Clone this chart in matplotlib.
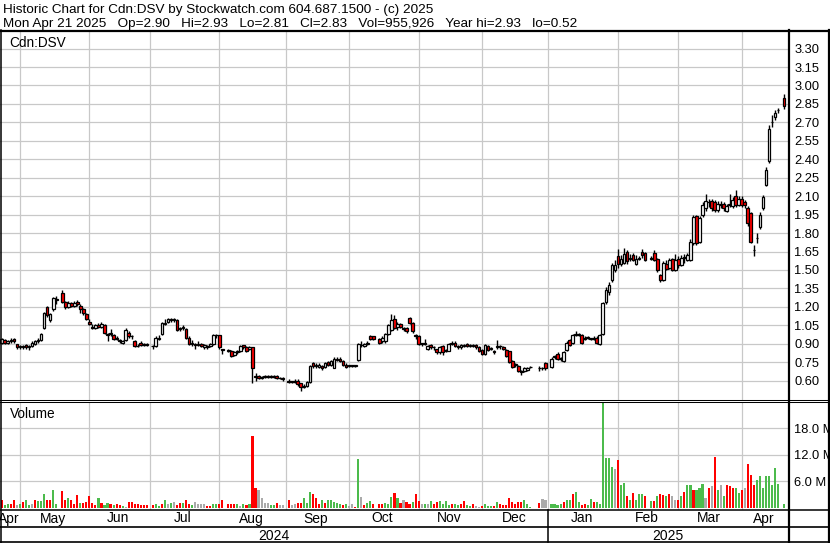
import numpy as np
import pandas as pd
import matplotlib
matplotlib.use("Agg")
import matplotlib.pyplot as plt
from matplotlib.lines import Line2D

plt.rcParams["font.family"] = ["Liberation Sans", "DejaVu Sans"]

W, H = 830, 543

# exchange holidays: the weekday slot stays empty on the chart
holidays = ["2024-05-20", "2024-07-01", "2024-08-05", "2024-09-02", "2024-10-14",
            "2024-12-25", "2024-12-26", "2025-01-01", "2025-02-17", "2025-04-18"]

# daily prices, one line per month (Apr 22 2024 .. Apr 21 2025)
opens = [
    0.92, 0.91, 0.93, 0.91, 0.92, 0.94, 0.90,
    0.87, 0.88, 0.89, 0.87, 0.88, 0.90, 0.92, 0.93, 1.03, 1.20, 1.09, 1.18, 1.26, 1.31, 1.24, 1.20, 1.23, 1.21, 1.24, 1.21, 1.18, 1.14,
    1.08, 1.04, 1.03, 1.05, 1.04, 1.05, 0.98, 0.98, 0.97, 0.94, 0.93, 0.91, 0.93, 0.99, 0.96, 0.92, 0.88, 0.91, 0.89, 0.90,
    0.88, 0.88, 0.94, 0.98, 1.06, 1.08, 1.10, 1.09, 1.09, 1.02, 1.03, 1.02, 0.95, 0.90, 0.90, 0.89, 0.90, 0.87, 0.88, 0.88, 0.90, 0.97,
    0.97, 0.86, 0.85, 0.84, 0.81, 0.83, 0.84, 0.89, 0.87, 0.86, 0.87, 0.64, 0.64, 0.62, 0.63, 0.64, 0.63, 0.64, 0.64, 0.62, 0.62,
    0.60, 0.59, 0.59, 0.60, 0.58, 0.55, 0.56, 0.59, 0.74, 0.72, 0.71, 0.72, 0.71, 0.75, 0.73, 0.70, 0.78, 0.78, 0.76, 0.73,
    0.72, 0.72, 0.72, 0.77, 0.89, 0.88, 0.90, 0.96, 0.96, 0.94, 0.92, 0.92, 0.98, 1.01, 1.10, 1.04, 1.06, 1.03, 1.03, 1.11, 1.07, 0.97,
    0.96, 0.90, 0.90, 0.86, 0.89, 0.87, 0.86, 0.83, 0.88, 0.84, 0.84, 0.90, 0.91, 0.88, 0.87, 0.88, 0.90, 0.88, 0.89, 0.89, 0.87,
    0.85, 0.82, 0.88, 0.86, 0.84, 0.87, 0.88, 0.87, 0.85, 0.84, 0.76, 0.73, 0.72, 0.68, 0.68, 0.69, 0.71, 0.70, 0.70, 0.74,
    0.71, 0.79, 0.82, 0.78, 0.76, 0.85, 0.93, 0.91, 0.97, 0.97, 0.97, 0.94, 0.95, 0.94, 0.94, 0.95, 0.90, 0.98, 1.24, 1.32, 1.42, 1.50,
    1.61, 1.55, 1.56, 1.65, 1.59, 1.62, 1.55, 1.59, 1.65, 1.64, 1.59, 1.64, 1.59, 1.46, 1.42, 1.55, 1.52, 1.59, 1.50,
    1.59, 1.54, 1.60, 1.58, 1.58, 1.72, 1.94, 1.73, 1.95, 2.00, 2.05, 2.06, 2.05, 1.99, 2.03, 2.04, 1.98, 2.03, 2.02, 2.10, 2.03,
    2.08, 2.05, 2.00, 1.96, 1.66, 1.76, 1.85, 2.00, 2.19, 2.39, 2.70, 2.74, 2.80, 2.90,
]
highs = [
    0.94, 0.95, 0.94, 0.93, 0.95, 0.95, 0.90,
    0.89, 0.89, 0.90, 0.89, 0.92, 0.93, 0.95, 0.99, 1.16, 1.21, 1.15, 1.28, 1.29, 1.34, 1.25, 1.25, 1.24, 1.25, 1.26, 1.22, 1.19, 1.15,
    1.10, 1.06, 1.06, 1.07, 1.08, 1.06, 0.99, 1.02, 0.98, 0.96, 0.94, 0.93, 1.03, 1.00, 0.97, 0.93, 0.90, 0.92, 0.91, 0.91,
    0.89, 0.96, 0.97, 1.08, 1.10, 1.11, 1.11, 1.11, 1.10, 1.04, 1.05, 1.03, 0.96, 0.93, 0.91, 0.92, 0.91, 0.90, 0.89, 0.91, 0.98, 0.98,
    0.97, 0.86, 0.86, 0.85, 0.84, 0.85, 0.89, 0.89, 0.88, 0.88, 0.87, 0.66, 0.65, 0.64, 0.65, 0.65, 0.65, 0.65, 0.65, 0.63, 0.63,
    0.61, 0.60, 0.61, 0.61, 0.58, 0.57, 0.60, 0.73, 0.75, 0.74, 0.74, 0.73, 0.75, 0.76, 0.77, 0.79, 0.79, 0.79, 0.77, 0.74,
    0.73, 0.73, 0.73, 0.91, 0.92, 0.91, 0.92, 0.97, 0.96, 0.95, 0.96, 0.99, 1.06, 1.14, 1.13, 1.08, 1.07, 1.04, 1.04, 1.12, 1.08, 0.98,
    0.97, 0.91, 0.94, 0.89, 0.90, 0.88, 0.86, 0.88, 0.89, 0.86, 0.91, 0.92, 0.92, 0.89, 0.90, 0.90, 0.91, 0.90, 0.90, 0.90, 0.88,
    0.86, 0.90, 0.89, 0.87, 0.85, 0.93, 0.89, 0.88, 0.86, 0.84, 0.77, 0.74, 0.73, 0.69, 0.71, 0.71, 0.72, 0.72, 0.71, 0.75,
    0.79, 0.81, 0.83, 0.79, 0.84, 0.92, 0.94, 0.98, 1.00, 0.99, 0.98, 0.96, 0.96, 0.95, 0.96, 0.96, 0.98, 1.24, 1.36, 1.40, 1.56, 1.58,
    1.67, 1.62, 1.68, 1.66, 1.63, 1.64, 1.62, 1.61, 1.67, 1.65, 1.61, 1.66, 1.60, 1.47, 1.57, 1.58, 1.60, 1.60, 1.63,
    1.61, 1.62, 1.63, 1.64, 1.75, 1.95, 1.95, 1.94, 2.05, 2.12, 2.08, 2.08, 2.07, 2.06, 2.06, 2.05, 2.04, 2.12, 2.09, 2.15, 2.10,
    2.10, 2.07, 2.02, 1.97, 1.70, 1.80, 1.97, 2.11, 2.34, 2.68, 2.76, 2.80, 2.82, 2.93,
]
lows = [
    0.91, 0.90, 0.90, 0.90, 0.91, 0.91, 0.86,
    0.86, 0.86, 0.86, 0.85, 0.87, 0.89, 0.91, 0.92, 1.02, 1.12, 1.08, 1.17, 1.22, 1.23, 1.18, 1.19, 1.20, 1.20, 1.21, 1.15, 1.13, 1.09,
    1.05, 1.02, 1.02, 1.03, 1.03, 0.98, 0.92, 0.96, 0.93, 0.93, 0.91, 0.90, 0.92, 0.95, 0.94, 0.87, 0.87, 0.88, 0.88, 0.88,
    0.86, 0.87, 0.93, 0.97, 1.05, 1.07, 1.08, 1.08, 1.00, 1.00, 1.01, 0.94, 0.89, 0.88, 0.86, 0.88, 0.87, 0.86, 0.86, 0.87, 0.89, 0.95,
    0.86, 0.82, 0.83, 0.79, 0.80, 0.82, 0.83, 0.86, 0.83, 0.85, 0.58, 0.60, 0.61, 0.61, 0.62, 0.62, 0.62, 0.62, 0.61, 0.61, 0.60,
    0.58, 0.58, 0.58, 0.56, 0.52, 0.54, 0.55, 0.58, 0.70, 0.70, 0.70, 0.69, 0.70, 0.72, 0.72, 0.70, 0.76, 0.75, 0.72, 0.70,
    0.71, 0.71, 0.71, 0.76, 0.87, 0.87, 0.89, 0.93, 0.93, 0.90, 0.91, 0.91, 0.97, 1.00, 1.02, 1.01, 1.03, 1.00, 0.99, 1.06, 0.99, 0.94,
    0.89, 0.88, 0.89, 0.85, 0.86, 0.85, 0.82, 0.82, 0.81, 0.83, 0.84, 0.89, 0.87, 0.86, 0.86, 0.87, 0.87, 0.87, 0.87, 0.86, 0.83,
    0.81, 0.81, 0.84, 0.85, 0.82, 0.86, 0.86, 0.85, 0.79, 0.74, 0.70, 0.71, 0.67, 0.65, 0.67, 0.68, 0.70, 0.68, 0.69, 0.69,
    0.70, 0.78, 0.77, 0.76, 0.75, 0.84, 0.88, 0.90, 0.96, 0.96, 0.90, 0.93, 0.94, 0.93, 0.93, 0.90, 0.89, 0.97, 1.22, 1.30, 1.40, 1.48,
    1.52, 1.53, 1.55, 1.55, 1.57, 1.57, 1.54, 1.58, 1.60, 1.57, 1.58, 1.57, 1.48, 1.40, 1.41, 1.50, 1.51, 1.49, 1.49,
    1.52, 1.53, 1.56, 1.57, 1.57, 1.70, 1.70, 1.72, 1.93, 1.98, 2.01, 1.98, 1.97, 1.97, 2.00, 1.98, 1.97, 2.01, 2.00, 2.01, 2.02,
    2.01, 2.00, 1.86, 1.72, 1.61, 1.72, 1.83, 1.99, 2.18, 2.37, 2.66, 2.72, 2.78, 2.81,
]
closes = [
    0.93, 0.94, 0.91, 0.92, 0.93, 0.92, 0.87,
    0.88, 0.87, 0.87, 0.88, 0.91, 0.92, 0.93, 0.98, 1.15, 1.13, 1.14, 1.27, 1.26, 1.24, 1.20, 1.23, 1.21, 1.23, 1.22, 1.18, 1.15, 1.10,
    1.06, 1.03, 1.05, 1.04, 1.06, 0.99, 0.97, 0.98, 0.94, 0.94, 0.92, 0.92, 1.01, 0.96, 0.96, 0.88, 0.88, 0.89, 0.90, 0.89,
    0.88, 0.95, 0.95, 1.07, 1.07, 1.10, 1.09, 1.10, 1.01, 1.03, 1.03, 0.95, 0.90, 0.91, 0.89, 0.90, 0.88, 0.89, 0.87, 0.90, 0.97, 0.97,
    0.87, 0.85, 0.84, 0.80, 0.83, 0.84, 0.88, 0.87, 0.84, 0.87, 0.70, 0.63, 0.62, 0.63, 0.64, 0.63, 0.64, 0.63, 0.62, 0.62, 0.61,
    0.59, 0.59, 0.60, 0.57, 0.55, 0.56, 0.59, 0.72, 0.72, 0.72, 0.73, 0.70, 0.74, 0.73, 0.76, 0.78, 0.77, 0.76, 0.73, 0.71,
    0.72, 0.72, 0.72, 0.90, 0.89, 0.90, 0.90, 0.94, 0.94, 0.91, 0.95, 0.98, 1.05, 1.09, 1.03, 1.06, 1.04, 1.02, 1.00, 1.07, 1.00, 0.96,
    0.90, 0.90, 0.91, 0.88, 0.87, 0.87, 0.83, 0.87, 0.83, 0.85, 0.90, 0.91, 0.88, 0.87, 0.89, 0.89, 0.88, 0.89, 0.88, 0.87, 0.84,
    0.82, 0.89, 0.85, 0.86, 0.83, 0.88, 0.88, 0.86, 0.80, 0.75, 0.71, 0.73, 0.68, 0.67, 0.70, 0.70, 0.71, 0.70, 0.70, 0.70,
    0.78, 0.80, 0.78, 0.78, 0.83, 0.91, 0.89, 0.97, 0.98, 0.98, 0.91, 0.95, 0.95, 0.94, 0.95, 0.91, 0.97, 1.23, 1.34, 1.38, 1.54, 1.54,
    1.55, 1.59, 1.63, 1.57, 1.59, 1.58, 1.59, 1.60, 1.62, 1.58, 1.59, 1.58, 1.50, 1.42, 1.56, 1.51, 1.58, 1.50, 1.58,
    1.54, 1.60, 1.60, 1.62, 1.73, 1.93, 1.72, 1.92, 2.03, 2.06, 2.05, 2.00, 1.99, 2.04, 2.03, 2.00, 2.02, 2.03, 2.07, 2.03, 2.08,
    2.03, 2.03, 1.88, 1.73, 1.66, 1.76, 1.95, 2.09, 2.31, 2.65, 2.70, 2.78, 2.80, 2.83,
]

# daily volume in millions of shares
volumes = [
    0.8, 1.9, 0.7, 0.8, 1.0, 1.7, 0.7,
    0.8, 1.4, 1.9, 0.7, 0.8, 1.7, 1.6, 1.6, 3.1, 1.9, 1.7, 4.0, 1.0, 3.8, 1.7, 2.2, 1.9, 1.0, 2.9, 1.2, 1.2, 1.4,
    2.6, 1.2, 0.6, 2.2, 1.1, 0.7, 1.2, 0.8, 0.6, 0.8, 0.6, 0.5, 0.2, 1.4, 1.4, 1.0, 0.8, 0.6, 0.6, 0.6,
    0.6, 1.0, 0.5, 1.0, 1.7, 1.0, 1.2, 1.4, 0.6, 1.2, 1.2, 1.9, 0.8, 0.6, 1.4, 0.8, 0.8, 1.0, 0.5, 0.5, 0.8, 1.0,
    0.8, 1.7, 1.0, 1.0, 0.8, 0.8, 0.5, 0.8, 0.6, 0.8, 16.2, 4.6, 4.0, 2.3, 1.2, 1.2, 0.6, 0.6, 1.2, 0.6, 0.6,
    1.9, 0.6, 0.8, 1.2, 1.2, 2.2, 1.2, 3.7, 3.2, 2.2, 0.8, 1.7, 1.2, 1.9, 1.9, 1.4, 1.2, 0.8, 0.6, 0.8,
    0.5, 0.8, 0.2, 11.0, 2.5, 0.6, 1.2, 1.6, 0.8, 0.8, 0.8, 1.2, 1.0, 2.5, 3.3, 2.2, 1.2, 1.7, 1.4, 0.8, 1.4, 3.2,
    1.6, 0.9, 1.0, 1.0, 1.6, 0.9, 1.3, 1.6, 0.9, 1.6, 0.7, 0.9, 1.0, 0.7, 1.0, 1.6, 0.7, 0.4, 0.9, 0.4, 0.2,
    0.4, 0.9, 0.4, 0.4, 0.4, 1.3, 0.9, 0.7, 0.7, 2.3, 1.3, 0.9, 1.3, 1.3, 1.9, 0.9, 0.2, 1.1, 2.1, 1.9,
    0.9, 0.9, 0.7, 0.9, 1.3, 1.9, 1.7, 3.1, 3.7, 1.3, 0.7, 0.9, 0.7, 2.1, 1.3, 1.3, 0.9, 26.0, 11.2, 11.2, 9.3, 8.8,
    10.8, 5.1, 5.6, 2.8, 1.7, 3.4, 1.7, 3.1, 3.1, 2.8, 1.6, 1.5, 2.8, 3.1, 2.9, 2.6, 3.1, 2.6, 1.9,
    1.9, 2.8, 3.6, 5.3, 5.1, 4.1, 4.1, 4.4, 5.5, 2.3, 4.4, 4.9, 11.6, 4.1, 5.1, 2.8, 5.1, 4.9, 4.6, 4.4, 3.4,
    4.1, 4.4, 9.9, 7.4, 5.3, 6.4, 7.2, 4.6, 7.2, 7.2, 5.3, 9.1, 5.5, 0.96,
]
# volume bar colour as read: g = up day, r = down day, n = unchanged
vol_moves = "".join([
    "nrggrrn",
    "grggn" "rgggr" "rggrr" "grrrg" "rr",
    "rrrgr" "ggrgr" "rgnrr" "rrrrr",
    "rggrg" "ngnrr" "grrgn" "nnnrr" "gg",
    "rrrrr" "gngrg" "rrnnn" "nggrn" "n",
    "rnnrr" "gggrr" "rgrgg" "gggrg",
    "nnrgn" "rggrr" "rgggr" "grnrr" "gr",
    "rngng" "rrggg" "grggr" "rggrn" "n",
    "rgggr" "grrrr" "rrrrg" "ggrnn",
    "ggggr" "ggrgg" "rrggr" "ggggg" "gn",
    "rggrg" "rgggr" "grgrr" "grnn",
    "rgrgg" "rgggn" "rnrgn" "grrrg" "g",
    "rnrrr" "ggggg" "gggg",
])

vol_colours = {"g": "#4cbb4c", "r": "#ff0000", "n": "#aaaaaa"}
month_names = ["Jan", "Feb", "Mar", "Apr", "May", "Jun",
               "Jul", "Aug", "Sep", "Oct", "Nov", "Dec"]

weekdays = pd.bdate_range("2024-04-22", "2025-04-21")
trade_days = weekdays[~weekdays.isin(pd.to_datetime(holidays))]
xs = weekdays.get_indexer(trade_days)

o = np.array(opens)
h = np.array(highs)
l = np.array(lows)
c = np.array(closes)
v = np.array(volumes)
assert len(o) == len(h) == len(l) == len(c) == len(v) == len(vol_moves) == len(xs)

month_start = [i for i in range(len(weekdays))
               if i == 0 or weekdays[i].month != weekdays[i - 1].month]
x_left, x_right = 0.40, 261.3

fig = plt.figure(figsize=(W / 100, H / 100), dpi=100)


def px_axes(x0, y0, x1, y1):
    return fig.add_axes([x0 / W, 1 - y1 / H, (x1 - x0) / W, (y1 - y0) / H])


# price panel
ax = px_axes(0, 31.5, 788, 399.5)
ax.set_xlim(x_left, x_right)
ax.set_ylim(0.447, 3.439)
ax.set_axisbelow(True)
ax.vlines(xs, l, h, color="black", lw=1.0, zorder=2)
body_low = np.minimum(o, c)
body_h = np.maximum(np.abs(c - o), 0.004)
faces = np.where(c >= o, "white", "#ff0000")
ax.bar(xs, body_h, bottom=body_low, width=0.9, color=faces,
       edgecolor="black", linewidth=0.9, zorder=3)
ticks = np.round(np.arange(0.60, 3.31, 0.15), 2)
ax.set_yticks(ticks)
ax.set_yticklabels([f"{t:.2f}" for t in ticks])
ax.yaxis.tick_right()
ax.set_xticks(month_start[1:])
ax.tick_params(axis="x", length=0, labelbottom=False)
ax.tick_params(axis="y", length=0, pad=4.5, labelsize=9.3)
ax.grid(True, color="#c8c8c8", lw=0.9)
for s in ax.spines.values():
    s.set_visible(False)

# volume panel
axv = px_axes(0, 402.5, 788, 509.5)
axv.set_xlim(x_left, x_right)
axv.set_ylim(-0.34, 23.8)
axv.set_axisbelow(True)
axv.bar(xs, v, width=0.7, color=[vol_colours[m] for m in vol_moves], zorder=2)
axv.set_yticks([6, 12, 18])
axv.set_yticklabels(["6.0 M", "12.0 M", "18.0 M"])
axv.yaxis.tick_right()
axv.set_xticks(month_start[1:])
axv.tick_params(axis="x", length=0, labelbottom=False)
axv.tick_params(axis="y", length=0, pad=4.5, labelsize=9.3)
axv.grid(True, color="#c8c8c8", lw=0.9)
for s in axv.spines.values():
    s.set_visible(False)

# month / year strip, y in pixels
axl = px_axes(0, 510, 788, 542)
axl.set_xlim(x_left, x_right)
axl.set_ylim(542, 510)
axl.axis("off")
bounds = month_start + [x_right + 0.5]
for a, b in zip(bounds[:-1], bounds[1:]):
    axl.text((max(a, x_left + 0.5) + b) / 2 - 0.5, 522.5,
             month_names[weekdays[a].month - 1],
             ha="center", va="baseline", fontsize=10)
jan = [i for i in month_start if weekdays[i].month == 1][0]
axl.text(jan / 2, 539.5, "2024", ha="center", va="baseline", fontsize=10)
axl.text((jan + x_right) / 2, 539.5, "2025", ha="center", va="baseline", fontsize=10)
axl.plot([jan, jan], [510, 542], color="black", lw=1.1, clip_on=False)


def hline(y, lw=1.0, x0=0, x1=W):
    fig.add_artist(Line2D([x0 / W, x1 / W], [1 - y / H, 1 - y / H], color="black", lw=lw))


def vline(x, y0, y1, lw=1.0):
    fig.add_artist(Line2D([x / W, x / W], [1 - y0 / H, 1 - y1 / H], color="black", lw=lw))


hline(30.5, 1.6)
hline(400.0, 0.75)
hline(402.3, 0.75)
hline(510.0, 1.1)
hline(527.0, 1.2)
hline(541.8, 1.2)
vline(0.6, 30, 543, 1.1)
vline(788.8, 30, 543, 1.6)
vline(829.0, 30, 543, 1.6)

fig.text(3 / W, 1 - 13.5 / H,
         "Historic Chart for Cdn:DSV by Stockwatch.com 604.687.1500 - (c) 2025",
         fontsize=9.7, va="baseline")
fig.text(3 / W, 1 - 27.5 / H,
         "Mon Apr 21 2025   Op=2.90   Hi=2.93   Lo=2.81   Cl=2.83   Vol=955,926   Year hi=2.93   lo=0.52",
         fontsize=9.7, va="baseline")
fig.text(9 / W, 1 - 46.5 / H, "Cdn:DSV", fontsize=9.8, va="baseline")
fig.text(9.5 / W, 1 - 418 / H, "Volume", fontsize=9.8, va="baseline")

fig.savefig("out.png", dpi=100)
